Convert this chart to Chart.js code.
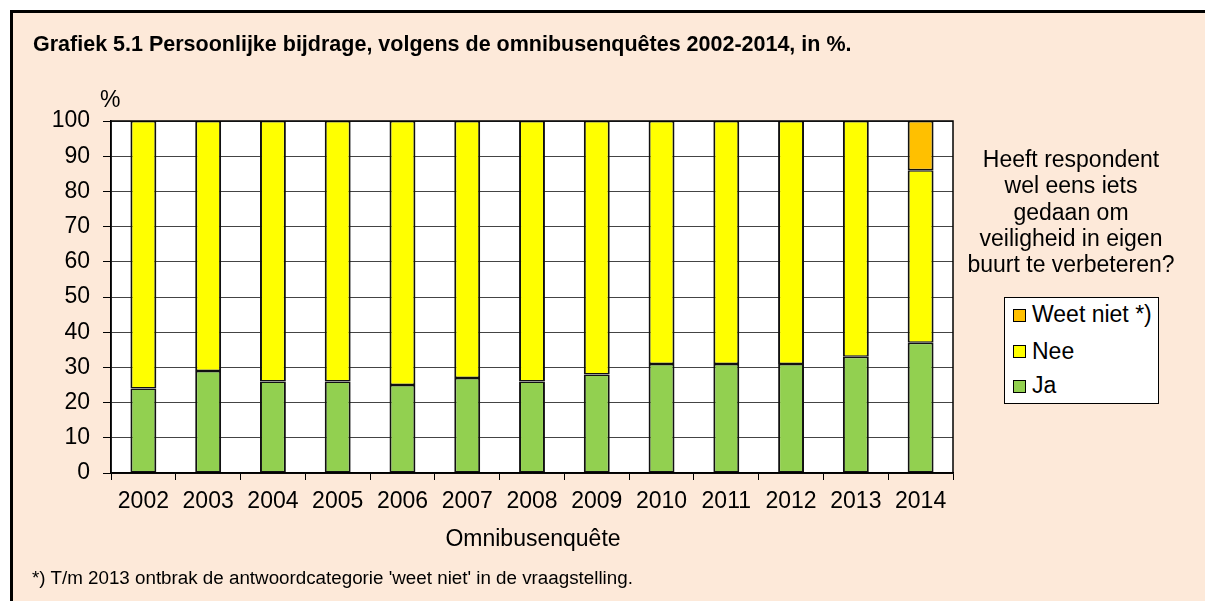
<!DOCTYPE html>
<html>
<head>
<meta charset="utf-8">
<script src="https://cdn.jsdelivr.net/npm/chart.js@4.4.1/dist/chart.umd.min.js"></script>
<style>
  html, body { margin: 0; padding: 0; background: #ffffff; }
  body { width: 1205px; height: 601px; position: relative; overflow: hidden; font-family: "Liberation Sans", Arial, sans-serif; color: #000; }
  #frame { position: absolute; left: 10px; top: 10px; width: 1300px; height: 700px; border-left: 3px solid #000; border-top: 3px solid #000; background: #FDE9D9; }
  #chartCanvas { position: absolute; left: 0; top: 0; }
  .txt { position: absolute; white-space: nowrap; }
  #title { left: 33px; top: 34px; font-size: 21.5px; font-weight: bold; line-height: 21.5px; }
  #pct { left: 100px; top: 88px; font-size: 23px; line-height: 23px; }
  #xtitle { left: 433px; width: 200px; text-align: center; top: 527px; font-size: 23px; line-height: 23px; }
  #foot { left: 32px; top: 569px; font-size: 18.8px; line-height: 18.8px; }
  #question { left: 961px; width: 220px; text-align: center; top: 146px; font-size: 23px; line-height: 26.3px; white-space: normal; }
  #legendBox { position: absolute; left: 1004px; top: 297px; width: 153px; height: 105px; border: 1px solid #000; background: #fff; }
  .lgSq { position: absolute; left: 1013px; width: 13px; height: 13px; box-sizing: border-box; border: 1px solid #000; }
  .lgTx { position: absolute; left: 1032px; font-size: 23px; line-height: 23px; white-space: nowrap; }
</style>
</head>
<body>
<div id="frame"></div>
<canvas id="chartCanvas" width="1205" height="601"></canvas>
<div class="txt" id="title">Grafiek 5.1 Persoonlijke bijdrage, volgens de omnibusenquêtes 2002-2014, in %.</div>
<div class="txt" id="pct">%</div>
<div class="txt" id="xtitle">Omnibusenquête</div>
<div class="txt" id="foot">*) T/m 2013 ontbrak de antwoordcategorie 'weet niet' in de vraagstelling.</div>
<div class="txt" id="question">Heeft respondent<br>wel eens iets<br>gedaan om<br>veiligheid in eigen<br>buurt te verbeteren?</div>
<div id="legendBox"></div>
<div id="legendItems"></div>
<script>
// ---- Data ----
const categories = ["2002","2003","2004","2005","2006","2007","2008","2009","2010","2011","2012","2013","2014"];
const jaValues   = [24, 29, 26, 26, 25, 27, 26, 28, 31, 31, 31, 33, 37];
const neeValues  = [76, 71, 74, 74, 75, 73, 74, 72, 69, 69, 69, 67, 49];
const weetNietValues = [null, null, null, null, null, null, null, null, null, null, null, null, 14];
const seriesNames = ["Ja", "Nee", "Weet niet *)"];
const yTicks = [0, 10, 20, 30, 40, 50, 60, 70, 80, 90, 100];

const seriesColors = ["#92D050", "#FFFF00", "#FFC000"];
const seriesData = [jaValues, neeValues, weetNietValues];

// ---- Legend (HTML, top item = last series) ----
const legendTops = [[309, 303], [345, 339.5], [380, 373.5]];
const legendItems = document.getElementById('legendItems');
[2, 1, 0].forEach((si, row) => {
  const sq = document.createElement('div');
  sq.className = 'lgSq';
  sq.style.top = legendTops[row][0] + 'px';
  sq.style.background = seriesColors[si];
  legendItems.appendChild(sq);
  const tx = document.createElement('div');
  tx.className = 'lgTx';
  tx.style.top = legendTops[row][1] + 'px';
  tx.textContent = seriesNames[si];
  legendItems.appendChild(tx);
});

// ---- Plugins ----
const areaPlugin = {
  id: 'areaPlugin',
  beforeDraw(chart) {
    const a = chart.chartArea, c = chart.ctx;
    c.save();
    c.fillStyle = '#ffffff';
    c.fillRect(a.left, a.top, a.right - a.left, a.bottom - a.top);
    c.restore();
  },
  afterDraw(chart) {
    const a = chart.chartArea, c = chart.ctx;
    c.save();
    c.strokeStyle = '#000';
    c.lineWidth = 1.5;
    c.strokeRect(a.left, a.top, a.right - a.left, a.bottom - a.top);
    c.restore();
  }
};

const FONT = "'Liberation Sans', Arial, sans-serif";

new Chart(document.getElementById('chartCanvas'), {
  type: 'bar',
  data: {
    labels: categories,
    datasets: seriesData.map((d, i) => ({
      label: seriesNames[i],
      data: d,
      backgroundColor: seriesColors[i],
      borderColor: '#111',
      borderWidth: { top: 1.5, bottom: 1.5, left: 2, right: 2 },
      borderSkipped: false,
      barPercentage: 0.4,
      categoryPercentage: 1.0
    }))
  },
  options: {
    responsive: false,
    animation: false,
    devicePixelRatio: 1,
    layout: { padding: { left: 0, top: 121, right: 252, bottom: 0 } },
    plugins: { legend: { display: false }, tooltip: { enabled: false }, title: { display: false } },
    scales: {
      x: {
        stacked: true,
        offset: true,
        grid: { display: true, drawOnChartArea: false, drawTicks: true, tickLength: 7, tickColor: '#000', offset: true, lineWidth: 1 },
        border: { display: true, color: '#000', width: 1.5 },
        ticks: { color: '#000', font: { family: FONT, size: 23 }, padding: 8, maxRotation: 0, autoSkip: false },
        afterFit(s) { s.height = 128; }
      },
      y: {
        stacked: true,
        min: 0,
        max: 100,
        afterBuildTicks(s) { s.ticks = yTicks.map(v => ({ value: v })); },
        grid: { color: '#444', lineWidth: 1, drawTicks: true, tickLength: 8, tickColor: '#000' },
        border: { display: true, color: '#000', width: 1.5 },
        ticks: { color: '#000', font: { family: FONT, size: 23 }, padding: 13 },
        afterFit(s) { s.width = 111; }
      }
    }
  },
  plugins: [areaPlugin]
});
</script>
</body>
</html>
